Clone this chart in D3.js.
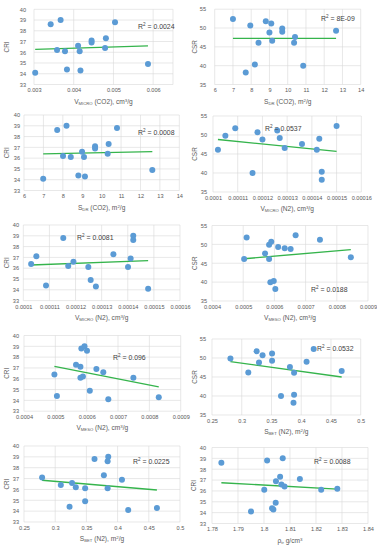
<!DOCTYPE html>
<html>
<head>
<meta charset="utf-8">
<script src="https://cdn.jsdelivr.net/npm/d3@7"></script>
<style>
  body { margin: 0; background: #fff; }
  svg { display: block; }
</style>
</head>
<body>
<svg id="chart" width="377" height="550"></svg>
<script>
// ---- values ----
const criTicks = [33, 34, 35, 36, 37, 38, 39, 40];
const csrTicks = [35, 40, 45, 50, 55];

const vMicroCO2Ticks = [0.003, 0.004, 0.005, 0.006];
const sDrTicks = [6, 7, 8, 9, 10, 11, 12, 13, 14];
const vMicroN2Ticks = [0.0001, 0.00011, 0.00012, 0.00013, 0.00014, 0.00015, 0.00016];
const vMesoTicks = [0.0004, 0.0005, 0.0006, 0.0007, 0.0008, 0.0009];
const sBetTicks = [0.25, 0.3, 0.35, 0.4, 0.45, 0.5];
const rhoTicks = [1.78, 1.79, 1.8, 1.81, 1.82, 1.83, 1.84];

// panel 1: CRI vs V_MICRO (CO2)
const p1X = [0.00303, 0.00342, 0.00367, 0.00358, 0.00378, 0.00383, 0.00411, 0.00415, 0.00417, 0.00445, 0.00445, 0.00481, 0.00479, 0.00504, 0.00587];
const p1Y = [34.1, 38.6, 39.0, 36.2, 36.1, 34.4, 36.6, 36.1, 34.3, 37.1, 36.9, 37.3, 36.4, 38.8, 34.9];
const p1Trend = [[0.00303, 36.27], [0.00587, 36.6]];

// panel 2: CSR vs S_DR (CO2)
const p2X = [7.0, 7.7, 7.95, 8.2, 8.4, 8.8, 9.0, 9.1, 9.15, 9.7, 9.7, 10.35, 10.4, 10.85, 12.65];
const p2Y = [52.4, 38.2, 50.7, 40.3, 46.1, 51.8, 48.8, 51.2, 46.6, 49.9, 49.0, 46.1, 47.6, 40.0, 49.3];
const p2Trend = [[7.0, 47.25], [12.65, 47.25]];

// panel 3: CRI vs S_DR (CO2)
const p3X = [6.99, 7.71, 8.19, 8.01, 8.41, 8.8, 8.99, 9.09, 9.14, 9.66, 9.66, 10.36, 10.31, 10.79, 12.61];
const p3Y = [34.1, 38.6, 39.0, 36.2, 36.1, 34.4, 36.6, 36.1, 34.3, 37.1, 36.9, 37.3, 36.4, 38.8, 34.9];
const p3Trend = [[6.99, 36.4], [12.61, 36.6]];

// panel 4: CSR vs V_MICRO (N2)
const p4X = [0.000102, 0.000105, 0.000109, 0.000116, 0.000118, 0.00012, 0.000126, 0.000127, 0.000129, 0.000136, 0.000142, 0.000143, 0.000144, 0.000144, 0.00015];
const p4Y = [46.1, 49.8, 51.8, 40.0, 50.7, 48.8, 51.2, 49.2, 46.6, 47.6, 46.1, 49.0, 40.3, 38.2, 52.4];
const p4Trend = [[0.000102, 48.8], [0.00015, 45.7]];

// panel 5: CRI vs V_MICRO (N2)
const p5X = [0.000103, 0.000105, 0.0001087, 0.0001153, 0.0001172, 0.0001192, 0.0001249, 0.0001258, 0.0001278, 0.0001345, 0.0001401, 0.0001411, 0.0001421, 0.0001421, 0.0001478];
const p5Y = [36.4, 37.1, 34.4, 38.8, 36.2, 36.6, 36.1, 34.9, 34.3, 37.3, 36.1, 36.9, 39.0, 38.6, 34.1];
const p5Trend = [[0.000103, 36.3], [0.0001478, 36.7]];

// panel 6: CSR vs V_MESO (N2)
const p6X = [0.000503, 0.000511, 0.00057, 0.000583, 0.000583, 0.00059, 0.000587, 0.000598, 0.000603, 0.000612, 0.000633, 0.000652, 0.000668, 0.000746, 0.000845];
const p6Y = [46.1, 51.8, 47.6, 49.9, 46.1, 50.7, 40.0, 40.3, 38.2, 49.3, 49.0, 48.8, 52.4, 51.2, 46.6];
const p6Trend = [[0.000503, 46.2], [0.000845, 48.6]];

// panel 7: CRI vs V_MESO (N2)
const p7X = [0.000497, 0.000505, 0.000566, 0.00058, 0.00058, 0.000583, 0.000588, 0.000593, 0.000601, 0.00061, 0.000631, 0.000653, 0.000669, 0.000749, 0.00083];
const p7Y = [36.4, 34.4, 37.3, 37.1, 36.1, 38.8, 36.2, 39.0, 38.6, 34.9, 36.9, 36.6, 34.1, 36.1, 34.3];
const p7Trend = [[0.000497, 37.15], [0.00083, 35.25]];

// panel 8: CSR vs S_BET (N2)
const p8X = [0.281, 0.311, 0.325, 0.329, 0.335, 0.351, 0.351, 0.366, 0.381, 0.388, 0.388, 0.387, 0.409, 0.421, 0.468];
const p8Y = [49.9, 46.2, 51.8, 48.8, 50.7, 51.2, 49.3, 40.0, 47.6, 46.1, 40.3, 38.2, 49.0, 52.4, 46.6];
const p8Trend = [[0.281, 49.05], [0.468, 45.0]];

// panel 9: CRI vs S_BET (N2)
const p9X = [0.279, 0.309, 0.327, 0.333, 0.323, 0.348, 0.348, 0.363, 0.378, 0.384, 0.385, 0.384, 0.407, 0.417, 0.463];
const p9Y = [37.1, 36.4, 36.6, 36.2, 34.4, 36.1, 34.9, 38.8, 37.3, 38.6, 39.0, 36.1, 36.9, 34.1, 34.3];
const p9Trend = [[0.279, 36.85], [0.463, 35.95]];

// panel 10: CRI vs rho_tr
const p10X = [1.7836, 1.795, 1.8001, 1.8012, 1.8031, 1.8036, 1.8046, 1.8045, 1.8062, 1.8067, 1.8072, 1.8079, 1.8138, 1.822, 1.8282];
const p10Y = [38.6, 34.1, 36.1, 38.8, 34.4, 34.3, 36.9, 34.9, 37.3, 36.6, 39.0, 36.4, 37.1, 36.1, 36.2];
const p10Trend = [[1.7836, 36.76], [1.8282, 36.17]];

const r2Labels = ["0.0024", "8E-09", "0.0008", "0.0537", "0.0081", "0.0188", "0.096", "0.0532", "0.0225", "0.0088"];

// axis titles as [text, "sub"|"sup"|""] parts
const tVmicroCO2 = [["V", ""], ["MICRO", "sub"], [" (CO2), cm", ""], ["3", "sup"], ["/g", ""]];
const tSdr = [["S", ""], ["DR", "sub"], [" (CO2), m", ""], ["2", "sup"], ["/g", ""]];
const tVmicroN2 = [["V", ""], ["MICRO", "sub"], [" (N2), cm", ""], ["3", "sup"], ["/g", ""]];
const tVmeso = [["V", ""], ["MESO", "sub"], [" (N2), cm", ""], ["3", "sup"], ["/g", ""]];
const tSbet = [["S", ""], ["BET", "sub"], [" (N2), m", ""], ["2", "sup"], ["/g", ""]];
const tRho = [["ρ", ""], ["tr", "sub"], [" g/cm", ""], ["3", "sup"], ["", ""]];

const panels = [
  { x: p1X, y: p1Y, trend: p1Trend, xDomain: [0.003, 0.0065], xTicks: vMicroCO2Ticks, yName: "CRI", title: tVmicroCO2 },
  { x: p2X, y: p2Y, trend: p2Trend, xDomain: [6, 14], xTicks: sDrTicks, yName: "CSR", title: tSdr },
  { x: p3X, y: p3Y, trend: p3Trend, xDomain: [6, 14], xTicks: sDrTicks, yName: "CRI", title: tSdr },
  { x: p4X, y: p4Y, trend: p4Trend, xDomain: [0.0001, 0.00016], xTicks: vMicroN2Ticks, yName: "CSR", title: tVmicroN2 },
  { x: p5X, y: p5Y, trend: p5Trend, xDomain: [0.0001, 0.00016], xTicks: vMicroN2Ticks, yName: "CRI", title: tVmicroN2 },
  { x: p6X, y: p6Y, trend: p6Trend, xDomain: [0.0004, 0.0009], xTicks: vMesoTicks, yName: "CSR", title: tVmeso },
  { x: p7X, y: p7Y, trend: p7Trend, xDomain: [0.0004, 0.0009], xTicks: vMesoTicks, yName: "CRI", title: tVmeso },
  { x: p8X, y: p8Y, trend: p8Trend, xDomain: [0.25, 0.5], xTicks: sBetTicks, yName: "CSR", title: tSbet },
  { x: p9X, y: p9Y, trend: p9Trend, xDomain: [0.25, 0.5], xTicks: sBetTicks, yName: "CRI", title: tSbet },
  { x: p10X, y: p10Y, trend: p10Trend, xDomain: [1.78, 1.84], xTicks: rhoTicks, yName: "CRI", title: tRho }
];

// plot boxes in page pixels, label spots
const layout = [
  { l: 34, r: 173, t: 9.3, b: 84.5, yLab: 26, yTitle: 7, r2x: 138, r2y: 27 },
  { l: 214.7, r: 360.7, t: 9.2, b: 84.5, yLab: 206, yTitle: 195, r2x: 321, r2y: 19 },
  { l: 24, r: 179.3, t: 115, b: 190.5, yLab: 20, yTitle: 7, r2x: 138, r2y: 133 },
  { l: 213, r: 361.3, t: 116, b: 192, yLab: 207, yTitle: 195, r2x: 265, r2y: 129 },
  { l: 23.3, r: 180, t: 225, b: 300.6, yLab: 19, yTitle: 7, r2x: 77, r2y: 238 },
  { l: 212, r: 368, t: 225.5, b: 301, yLab: 207, yTitle: 195, r2x: 311, r2y: 290 },
  { l: 24, r: 180.7, t: 335.5, b: 411.2, yLab: 19, yTitle: 7, r2x: 113, r2y: 358 },
  { l: 212, r: 360.7, t: 339, b: 415, yLab: 206, yTitle: 195, r2x: 317, r2y: 349 },
  { l: 24, r: 180, t: 446, b: 522, yLab: 19, yTitle: 7, r2x: 133, r2y: 462 },
  { l: 212, r: 368, t: 447.5, b: 523.5, yLab: 206, yTitle: 194, r2x: 314, r2y: 462 }
];

const FONT = "'Liberation Sans', Arial, sans-serif";
const TEXT = "#595959";
const GRID = "#d9d9d9";
const DOT = "#5b9bd5";
const TREND = "#35b44c";

const svg = d3.select("#chart");

panels.forEach((p, i) => {
  const L = layout[i];
  const isCri = p.yName === "CRI";
  const yTicks = isCri ? criTicks : csrTicks;
  const yDomain = isCri ? [33, 40] : [35, 55];

  const x = d3.scaleLinear().domain(p.xDomain).range([L.l, L.r]);
  const y = d3.scaleLinear().domain(yDomain).range([L.b, L.t]);

  const g = svg.append("g").attr("font-family", FONT);

  // gridlines (ticks plus the plot edges)
  const vLines = Array.from(new Set([...p.xTicks, ...p.xDomain]));
  g.append("g").selectAll("line")
    .data(vLines)
    .join("line")
    .attr("x1", d => x(d)).attr("x2", d => x(d))
    .attr("y1", L.t).attr("y2", L.b)
    .attr("stroke", GRID).attr("stroke-width", 0.6);

  g.append("g").selectAll("line")
    .data(yTicks)
    .join("line")
    .attr("x1", L.l).attr("x2", L.r)
    .attr("y1", d => y(d)).attr("y2", d => y(d))
    .attr("stroke", GRID).attr("stroke-width", 0.6);

  // x axis labels
  g.append("g")
    .attr("transform", `translate(0,${L.b})`)
    .call(d3.axisBottom(x).tickValues(p.xTicks).tickFormat(d => String(d)).tickSize(0).tickPadding(4))
    .call(a => a.select(".domain").remove())
    .selectAll("text")
    .attr("fill", TEXT)
    .attr("font-size", 5.6)
    .attr("font-family", FONT);

  // y axis labels
  g.append("g")
    .attr("transform", `translate(${L.l},0)`)
    .call(d3.axisLeft(y).tickValues(yTicks).tickFormat(d => String(d)).tickSize(0).tickPadding(L.l - L.yLab))
    .call(a => a.select(".domain").remove())
    .selectAll("text")
    .attr("fill", TEXT)
    .attr("font-size", 5.6)
    .attr("font-family", FONT);

  // y title
  g.append("text")
    .attr("transform", `translate(${L.yTitle},${(L.t + L.b) / 2}) rotate(-90)`)
    .attr("text-anchor", "middle")
    .attr("dy", "0.35em")
    .attr("fill", TEXT)
    .attr("font-size", 6.4)
    .text(p.yName);

  // x title with sub/superscripts
  const xt = g.append("text")
    .attr("x", (L.l + L.r) / 2)
    .attr("y", L.b + 19)
    .attr("text-anchor", "middle")
    .attr("fill", TEXT)
    .attr("font-size", 6.6);
  p.title.forEach(([txt, kind]) => {
    if (!txt) return;
    const ts = xt.append("tspan").text(txt);
    if (kind === "sub") ts.attr("font-size", 4.2).attr("baseline-shift", "-1.2");
    if (kind === "sup") ts.attr("font-size", 4.4).attr("baseline-shift", "2.4");
  });

  // trendline
  g.append("path")
    .datum(p.trend)
    .attr("d", d3.line().x(d => x(d[0])).y(d => y(d[1])))
    .attr("fill", "none")
    .attr("stroke", TREND)
    .attr("stroke-width", 1.4);

  // points
  g.append("g").selectAll("circle")
    .data(p.x.map((v, k) => [v, p.y[k]]))
    .join("circle")
    .attr("cx", d => x(d[0]))
    .attr("cy", d => y(d[1]))
    .attr("r", 3)
    .attr("fill", DOT);

  // R² label
  const rt = g.append("text")
    .attr("x", L.r2x)
    .attr("y", L.r2y)
    .attr("dy", "0.35em")
    .attr("fill", "#404040")
    .attr("font-size", 6.9);
  rt.append("tspan").text("R");
  rt.append("tspan").text("2").attr("font-size", 4.6).attr("baseline-shift", "2.6");
  rt.append("tspan").text(" = " + r2Labels[i]);
});
</script>
</body>
</html>
